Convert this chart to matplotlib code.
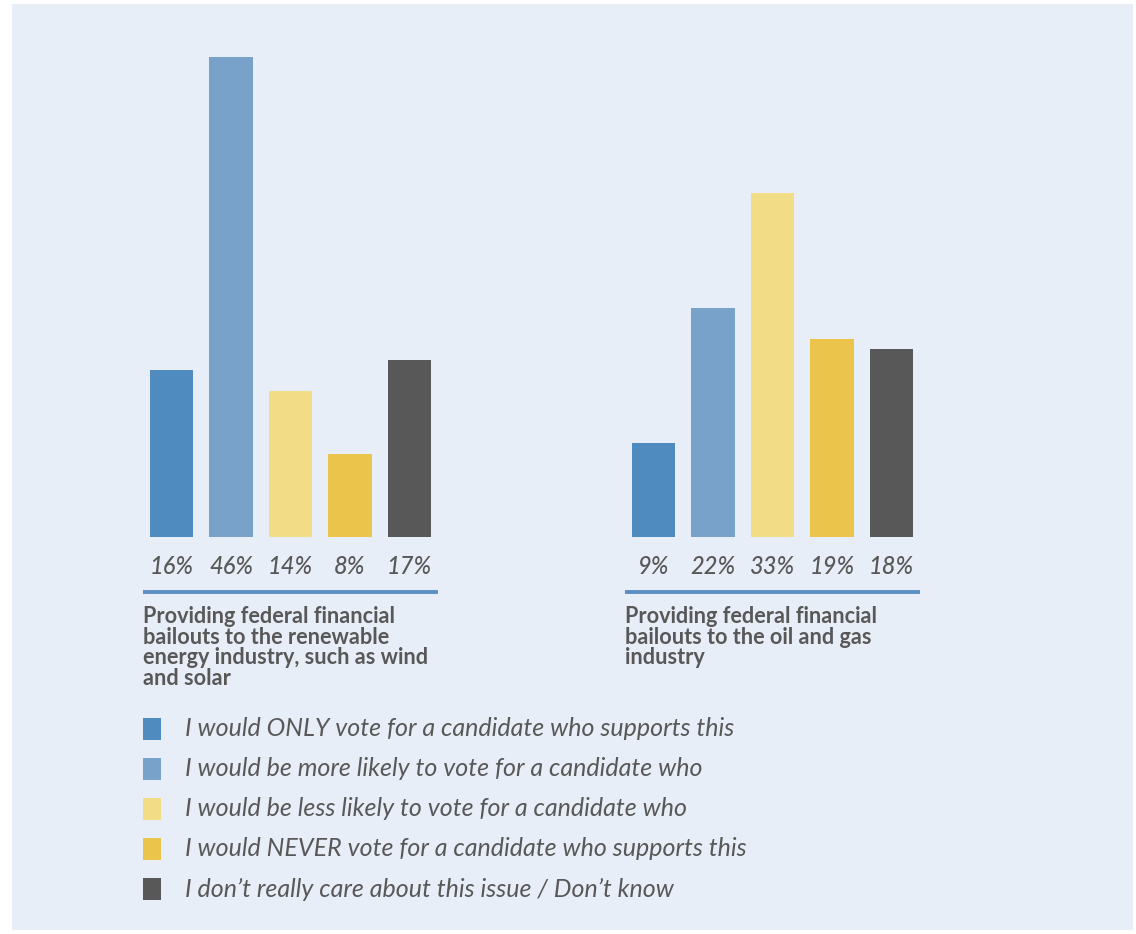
import matplotlib
matplotlib.use('Agg')
import matplotlib.pyplot as plt
from matplotlib.patches import Rectangle

# data
groups = ["Providing federal financial\nbailouts to the renewable\nenergy industry, such as wind\nand solar",
          "Providing federal financial\nbailouts to the oil and gas\nindustry"]
renewable = [16, 46, 14, 8, 17]
oil_gas = [9, 22, 33, 19, 18]
responses = ["I would ONLY vote for a candidate who supports this",
             "I would be more likely to vote for a candidate who",
             "I would be less likely to vote for a candidate who",
             "I would NEVER vote for a candidate who supports this",
             "I don\u2019t really care about this issue / Don\u2019t know"]
colors = ["#4f8bbf", "#79a2cb", "#f3dc86", "#ebc44b", "#585858"]

BG = "#e8eef7"
TXT = "#585858"
LINE = "#5b8fc3"

W, H = 1136, 934
fig = plt.figure(figsize=(W / 100, H / 100), dpi=100)
fig.patch.set_facecolor("white")
fig.patches.append(Rectangle((12 / W, 4 / H), 1121 / W, 926 / H, transform=fig.transFigure,
                             facecolor=BG, edgecolor="none", zorder=-5))

# axes covers the whole figure; 1 x-unit = one bar slot, 1 y-unit = 1 %
px_x, px_y = 59.5, 10.43
x0_px, base_px = 171.5, 537
ax = fig.add_axes([0, 0, 1, 1], zorder=2)
ax.set_xlim(-x0_px / px_x, (W - x0_px) / px_x)
ax.set_ylim(-(H - base_px) / px_y, base_px / px_y)
ax.axis("off")
ax.patch.set_alpha(0)

group_offset = 482 / px_x
for g, vals in enumerate([renewable, oil_gas]):
    xs = [g * group_offset + i for i in range(len(vals))]
    ax.bar(xs, vals, width=0.725, color=colors, zorder=2)
    for x, v in zip(xs, vals):
        ax.text(x, -30 / px_y, f"{v}%", ha="center", va="center", fontsize=17,
                fontstyle="italic", fontweight="medium", family="Lato", color=TXT)
    left = xs[0] - 0.48
    right = xs[-1] + 0.48
    ax.plot([left, right], [-55 / px_y] * 2, color=LINE, lw=2.8, solid_capstyle="butt")
    ax.text(left, -69 / px_y, groups[g], ha="left", va="top", fontsize=15.6,
            fontweight="bold", family="Lato", color=TXT, linespacing=0.98)

# legend
for k, (lab, c) in enumerate(zip(responses, colors)):
    yc = 1 - (729 + 40 * k) / H
    fig.patches.append(Rectangle((143 / W, yc - 11 / H), 18 / W, 22 / H,
                                 transform=fig.transFigure, facecolor=c, edgecolor="none"))
    fig.text(185 / W, yc, lab, ha="left", va="center", fontsize=18,
             fontstyle="italic", family="Lato", color=TXT)

fig.savefig("out.png", dpi=100, facecolor="white")
